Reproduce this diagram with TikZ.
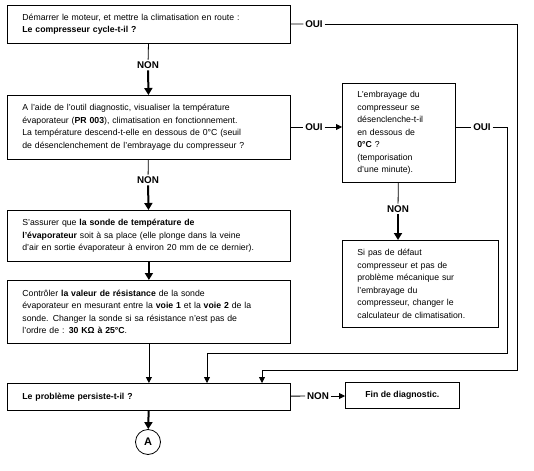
\documentclass[tikz,border=0pt]{standalone}
\usepackage{fontspec}
\setmainfont{Liberation Sans}
\usetikzlibrary{arrows.meta}

\begin{document}
\begin{tikzpicture}[x=1pt, y=-1pt, line width=0.8pt, font=\fontsize{8.7}{12.5}\selectfont]

\useasboundingbox (0,0) rectangle (534,470);

%% setup styles for the flow chart
\tikzstyle{box}=[draw, rectangle, anchor=north west, align=left, inner xsep=15pt, inner ysep=0pt]
\tikzstyle{left box}=[box, minimum width=283pt, text width=253pt]
\tikzstyle{answer}=[inner sep=1.5pt, font=\fontsize{9.8}{11}\selectfont\bfseries]
\tikzstyle{big arrow}=[line width=2pt, -{Triangle[length=7pt,width=8pt]}]
\tikzstyle{small arrow}=[-{Triangle[length=6pt,width=6pt]}]

%% define coordinate grid
\def\xleft{7}
\def\xmid{148}
\def\xright{342}
\def\youi{127}

% left column
\node[left box, minimum height=38pt] (B1) at (\xleft,5) {D\'emarrer le moteur, et mettre la climatisation en route :\\ \textbf{Le compresseur cycle-t-il ?}};
\node[left box, minimum height=64pt] (B2) at (\xleft,95) {A l'aide de l'outil diagnostic, visualiser la temp\'erature\\ \'evaporateur (\textbf{PR 003}), climatisation en fonctionnement.\\ La temp\'erature descend-t-elle en dessous de 0°C (seuil\\ de d\'esenclenchement de l'embrayage du compresseur ?};
\node[left box, minimum height=51pt] (B3) at (\xleft,210) {S'assurer que \textbf{la sonde de temp\'erature de}\\ \textbf{l'\'evaporateur} soit \`a sa place (elle plonge dans la veine\\ d'air en sortie \'evaporateur \`a environ 20 mm de ce dernier).};
\node[left box, minimum height=63pt] (B4) at (\xleft,280) {Contr\^oler \textbf{la valeur de r\'esistance} de la sonde\\ \'evaporateur en mesurant entre la \textbf{voie 1} et la \textbf{voie 2} de la\\ sonde. Changer la sonde si sa r\'esistance n'est pas de\\ l'ordre de : \textbf{30 KΩ \`a 25°C}.};
\node[left box, minimum height=27pt] (B5) at (\xleft,383) {\textbf{Le probl\`eme persiste-t-il ?}};

% right column
\node[box, minimum width=113pt, text width=83pt, minimum height=99pt] (R1) at (\xright,83) {L'embrayage du\\ compresseur se\\ d\'esenclenche-t-il\\ en dessous de\\ \textbf{0°C} ?\\ (temporisation\\ d'une minute).};
\node[box, minimum width=156pt, text width=126pt, minimum height=87pt] (R2) at (\xright,240) {Si pas de d\'efaut\\ compresseur et pas de\\ probl\`eme m\'ecanique sur\\ l'embrayage du\\ compresseur, changer le\\ calculateur de climatisation.};
\node[box, align=center, minimum width=114pt, minimum height=26pt] (FIN) at (345,382) {\textbf{Fin de diagnostic.}};

% end connector
\node[circle, draw, minimum size=25pt, inner sep=0pt, font=\fontsize{11}{12}\selectfont\bfseries] (A) at (\xmid,442) {A};

% answers
\node[answer] (N1) at (\xmid,65) {NON};
\node[answer] (N2) at (\xmid,180) {NON};
\node[answer] (N3) at (398,209) {NON};
\node[answer] (N4) at (318,396) {NON};
\node[answer] (O1) at (314,24) {OUI};
\node[answer] (O2) at (314,\youi) {OUI};
\node[answer] (O3) at (482,\youi) {OUI};

%% corners of the return lines
\coordinate (C1) at (517,370);
\coordinate (C2) at (507,353);
\coordinate (I1) at (262,383);
\coordinate (I2) at (207,383);

% NON branches
\draw (B1) -- (N1);
\draw[big arrow] (N1) -- (B2);
\draw (B2) -- (N2);
\draw[big arrow] (N2) -- (B3);
\draw[big arrow] (B3) -- (B4);
\draw[small arrow] (B4) -- (B5);
\draw (R1) -- (N3);
\draw[big arrow] (N3.south) -- (N3.south |- R2.north);
\draw (B5) -- (N4);
\draw[small arrow] (N4.east) -- (N4.east -| FIN.west);
\draw[big arrow] (B5) -- (A);

% OUI branches
\draw (B1) -- (O1);
\draw[small arrow] (O1.east) -| (C1) -| (I1);
\draw (B2.east |- O2) -- (O2);
\draw[small arrow] (O2.east) -- (O2.east -| R1.west);
\draw (R1.east |- O3) -- (O3);
\draw[small arrow] (O3.east) -| (C2) -| (I2);

\end{tikzpicture}
\end{document}
